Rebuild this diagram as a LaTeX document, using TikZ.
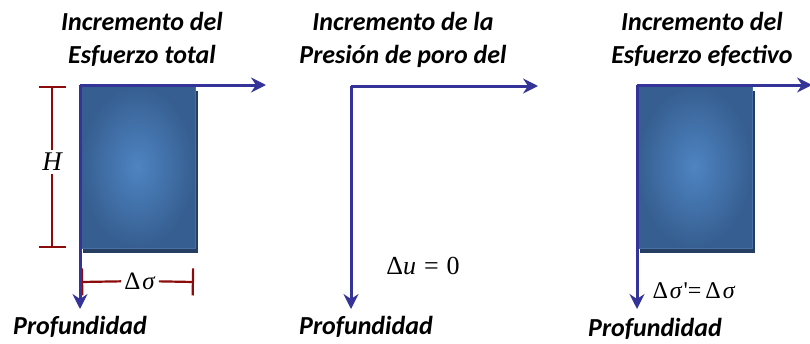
\documentclass[tikz,border=0pt]{standalone}
\usepackage{fontspec}
\setmainfont{Carlito}
\newfontfamily\serif{Liberation Serif}
\usetikzlibrary{arrows.meta}
\definecolor{azuleje}{RGB}{52,52,152}
\definecolor{rojocota}{RGB}{140,12,12}
\definecolor{azulclaro}{RGB}{78,132,194}
\definecolor{azulborde}{RGB}{54,94,144}
\definecolor{azulsombra}{RGB}{38,62,98}
\definecolor{azulfilo}{RGB}{72,112,164}
\tikzset{
	titulo/.style={font=\fontsize{26}{33}\selectfont\bfseries\itshape, align=center, anchor=north},
	prof/.style={font=\fontsize{26}{30}\selectfont\bfseries\itshape},
	eje/.style={draw=azuleje, line width=3pt, -{Stealth[length=15pt,width=15pt,inset=5pt]}},
	cota/.style={draw=rojocota, line width=2.2pt},
	cotaini/.style={cota, {Bar[width=27pt]}-},
	cotafin/.style={cota, -{Bar[width=27pt]}},
	rotulo/.style={fill=white, inner sep=3pt, font=\serif\fontsize{25}{28}\selectfont},
	bloque/.style={inner color=azulclaro, outer color=azulborde, draw=azulfilo, line width=1pt},
	sombra/.style={fill=azulsombra}
}
\begin{document}
\begin{tikzpicture}[x=1pt, y=-1pt, line join=round]
	\useasboundingbox (0,0) rectangle (810,343);
	% esfuerzo total
	\coordinate (O1) at (80,85);
	\coordinate (X1) at (266,85);
	\coordinate (Z1) at (80,309);
	\fill[sombra] (83,91) rectangle (198,253);
	\shadedraw[bloque] (O1) rectangle (195,248);
	\coordinate (h1) at (52,86);
	\coordinate (h2) at (52,248);
	\node[rotulo, font=\serif\fontsize{27}{30}\selectfont] (H) at (52,162) {\itshape H};
	\draw[cotaini] (h1)--(H);
	\draw[cotafin] (H)--(h2);
	\coordinate (d1) at (81,282);
	\coordinate (d2) at (194,282);
	\node[rotulo] (DS) at (140,281) {Δ\hspace{2pt}\textit{σ}};
	\draw[cotaini] (d1)--(DS);
	\draw[cotafin] (DS)--(d2);
	\draw[eje] (O1)--(X1);
	\draw[eje] (O1)--(Z1);
	\node[titulo] (T1) at (142,9) {Incremento del\\Esfuerzo total};
	\node[prof] (P1) at (80,327) {Profundidad};
	% presion de poro
	\coordinate (O2) at (351,86);
	\coordinate (X2) at (538,86);
	\coordinate (Z2) at (351,309);
	\draw[eje] (O2)--(X2);
	\draw[eje] (O2)--(Z2);
	\node[rotulo, font=\serif\fontsize{26}{29}\selectfont] (DU) at (423,266) {Δ\textit{u}\hspace{8pt}=\hspace{8pt}0};
	\node[titulo] (T2) at (403,9) {Incremento de la\\Presión de poro del};
	\node[prof] (P2) at (366,327) {Profundidad};
	% esfuerzo efectivo
	\coordinate (O3) at (637,85);
	\coordinate (X3) at (812,85);
	\coordinate (Z3) at (637,309);
	\fill[sombra] (640,91) rectangle (755,253);
	\shadedraw[bloque] (O3) rectangle (752,248);
	\draw[eje] (O3)--(X3);
	\draw[eje] (O3)--(Z3);
	\node[rotulo, font=\serif\fontsize{24}{27}\selectfont, fill=none] (DE) at (694,291) {Δ\hspace{2pt}\textit{σ}\hspace{1pt}\textquotesingle=\hspace{4pt}Δ\hspace{2pt}\textit{σ}};
	\node[titulo] (T3) at (702,9) {Incremento del\\Esfuerzo efectivo};
	\node[prof] (P3) at (655,329) {Profundidad};
\end{tikzpicture}
\end{document}
